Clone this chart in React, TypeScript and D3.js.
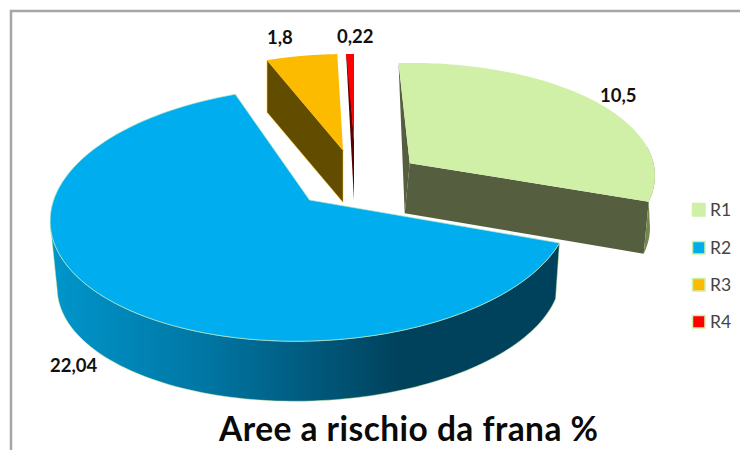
import React from "react";
import * as d3 from "d3";

const categories = ["R1", "R2", "R3", "R4"];
const values = [10.5, 22.04, 1.8, 0.22];
const valueLabels = ["10,5", "22,04", "1,8", "0,22"];
const title = "Aree a rischio da frana %";
const topColors = ["#d0f0a8", "#00aeef", "#fdbb00", "#ff0000"];
const sideColors = ["#555f3f", "url(#blueSide)", "#614c00", "#5a0000"];

// perspective: apex sits off the ellipse centre
const P = -0.11;
const rad = Math.PI / 180;
type Ell = { cx: number; cy: number; a: number; b: number; phi: number };
const tops: Ell[] = [
  { cx: 401, cy: 180, a: 254, b: 117, phi: -1.2 },
  { cx: 310, cy: 214, a: 260, b: 127, phi: -2 },
  { cx: 346, cy: 169, a: 244, b: 115, phi: 0 },
  { cx: 354, cy: 169, a: 220, b: 115, phi: 0 },
];
const bottoms: Ell[] = [
  { cx: 396, cy: 232, a: 254, b: 117, phi: -1.2 },
  { cx: 309, cy: 281, a: 252, b: 120, phi: -2 },
  { cx: 346, cy: 221, a: 244, b: 115, phi: 0 },
  { cx: 354, cy: 221, a: 220, b: 115, phi: 0 },
];
const endNudge = [0, 3.5, 0, 0];
const startNudge = [0, 3.8, 0, 0];
const r2BottomStartNudge = -0.6;
const apexShift = [[9, -4], [0, 0], [-3, -6], [0, -16]];
const bottomApexShift = [[9, -6], [0, 0], [-3, -6], [0, -8]];
const labelPos = [[600, 102], [50, 372], [267, 44], [337, 43]];
const legendY = [203, 241, 278, 315];

const project = (e: Ell, theta: number): [number, number] => {
  const x = Math.sin(theta);
  const y = -Math.cos(theta);
  const d = 1 + P * y;
  const nx = (x * Math.sqrt(1 - P * P)) / d;
  const ny = (y + P) / d;
  const u = e.a * nx;
  const v = e.b * ny;
  const c = Math.cos(e.phi * rad);
  const s = Math.sin(e.phi * rad);
  return [e.cx + u * c - v * s, e.cy + u * s + v * c];
};
const apexOf = (e: Ell, sh: number[]): [number, number] => {
  const v = e.b * P;
  const s = Math.sin(e.phi * rad);
  return [e.cx - v * s + sh[0], e.cy + v * Math.cos(e.phi * rad) + sh[1]];
};
const arc = (e: Ell, a0: number, a1: number): [number, number][] =>
  d3.range(0, 101).map((i) => project(e, a0 + ((a1 - a0) * i) / 100));
const line = d3.line<[number, number]>().x((d) => d[0]).y((d) => d[1]);

export default function App() {
  const arcs = d3.pie<number>().sort(null)(values);
  const foldR2 = 263.7 * rad;
  const foldR1 = 82 * rad;
  const a = arcs.map((d, i) => [d.startAngle + startNudge[i] * rad, d.endAngle + endNudge[i] * rad]);

  const topPath = (i: number) =>
    line([apexOf(tops[i], apexShift[i]), ...arc(tops[i], a[i][0], a[i][1])]) + "Z";

  const r1Front = line([
    apexOf(tops[0], apexShift[0]),
    project(tops[0], a[0][1]),
    project(bottoms[0], a[0][1]),
    apexOf(bottoms[0], bottomApexShift[0]),
  ]) + "Z";
  const r1Inner = line([
    project(tops[0], a[0][0]),
    apexOf(tops[0], apexShift[0]),
    apexOf(bottoms[0], bottomApexShift[0]),
  ]) + "Z";
  const r1Rim = line([
    ...arc(tops[0], foldR1, a[0][1]),
    ...arc(bottoms[0], a[0][1], foldR1 + 12 * rad),
  ]) + "Z";
  const r2Side = line([
    ...arc(tops[1], a[1][0], foldR2),
    ...arc(bottoms[1], foldR2, arcs[1].startAngle + r2BottomStartNudge * rad),
  ]) + "Z";
  const r3Side = line([
    project(tops[2], a[2][0]),
    apexOf(tops[2], apexShift[2]),
    apexOf(bottoms[2], bottomApexShift[2]),
    project(bottoms[2], a[2][0]),
  ]) + "Z";
  const r4Side = line([
    project(tops[3], a[3][0]),
    [project(tops[3], a[3][0])[0] + 1.5, project(tops[3], a[3][0])[1]],
    apexOf(tops[3], apexShift[3]),
    apexOf(bottoms[3], bottomApexShift[3]),
  ]) + "Z";

  return (
    <svg width={740} height={450} style={{ position: "absolute", left: 0, top: 0 }} fontFamily="Lato, 'Open Sans', sans-serif">
      <defs>
        <linearGradient id="blueSide" gradientUnits="userSpaceOnUse" x1={55} x2={400} y1={0} y2={0}>
          <stop offset="0" stopColor="#0095ca" />
          <stop offset="0.45" stopColor="#0075a2" />
          <stop offset="1" stopColor="#00425c" />
        </linearGradient>
      </defs>
      <rect width={740} height={450} fill="#fff" />
      <path d="M11,450V11H740" fill="none" stroke="#a6a6a6" strokeWidth={2.5} />

      <path d={r1Inner} fill="#555f3f" />
      <path d={r1Front} fill={sideColors[0]} />
      <path d={r1Rim} fill="#75864f" />
      <path d={topPath(0)} fill={topColors[0]} />

      <path d={r2Side} fill={sideColors[1]} stroke="#d0f0a8" strokeWidth={0.5} />
      <path d={topPath(1)} fill={topColors[1]} stroke="#b6e6c8" strokeWidth={0.7} />

      <path d={r3Side} fill={sideColors[2]} stroke="#fdbb00" strokeWidth={0.5} />
      <path d={topPath(2)} fill={topColors[2]} />

      <path d={r4Side} fill={sideColors[3]} />
      <path d={topPath(3)} fill={topColors[3]} />

      {valueLabels.map((t, i) => (
        <text key={t} x={labelPos[i][0]} y={labelPos[i][1]} fontSize={18.5} fontWeight={700} fill="#111">{t}</text>
      ))}
      {categories.map((c, i) => (
        <g key={c}>
          <rect x={692.5} y={legendY[i] + 0.5} width={12.5} height={12.5} fill={topColors[i]} stroke="#d0f0a8" strokeWidth={1.5} />
          <text x={710} y={legendY[i] + 12.5} fontSize={17.5} fill="#444">{c}</text>
        </g>
      ))}
      <text x={219} y={441} fontSize={33.5} fontWeight={700} fill="#0a0a0a" textLength={379} lengthAdjust="spacing">{title}</text>
    </svg>
  );
}
